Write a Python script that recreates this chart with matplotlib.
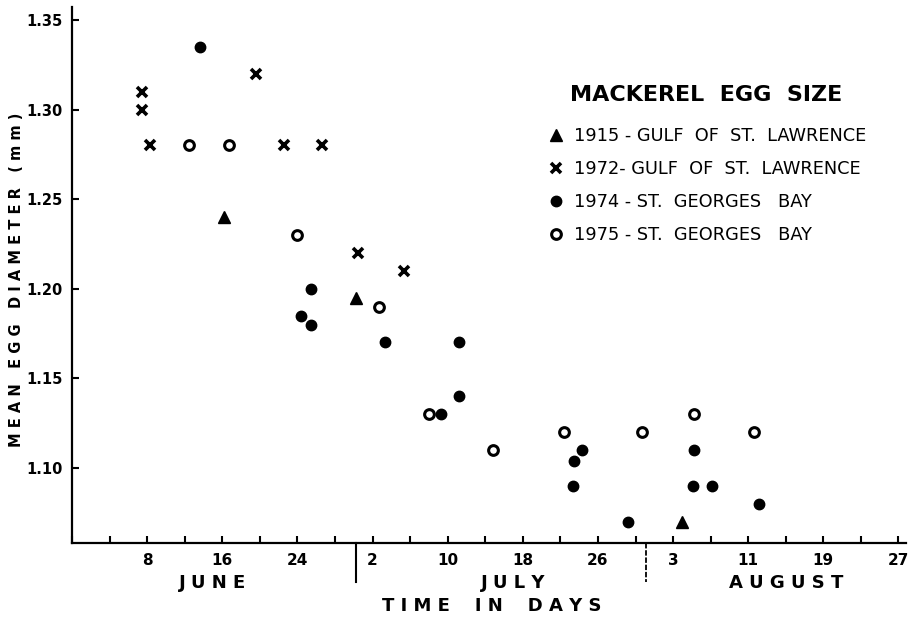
import matplotlib
matplotlib.use("Agg")
import matplotlib.pyplot as plt
from matplotlib.ticker import MultipleLocator, FixedLocator, FixedFormatter
import matplotlib.transforms as mtransforms

# day numbers: June 1 = 1, July 1 = 31, August 1 = 62
day_1915 = [16.2, 30.2, 65.0]
size_1915 = [1.24, 1.195, 1.07]

day_1972 = [7.4, 7.4, 8.3, 19.6, 22.6, 26.6, 30.5, 35.4]
size_1972 = [1.31, 1.30, 1.28, 1.32, 1.28, 1.28, 1.22, 1.21]

day_1974 = [13.6, 25.5, 24.4, 25.4, 33.3, 41.2, 41.2, 39.3, 53.4, 54.3,
            53.3, 59.2, 66.2, 66.1, 68.1, 73.2]
size_1974 = [1.335, 1.20, 1.185, 1.18, 1.17, 1.17, 1.14, 1.13, 1.104, 1.11,
             1.09, 1.07, 1.11, 1.09, 1.09, 1.08]

day_1975 = [12.5, 16.7, 24.0, 32.7, 38.0, 44.8, 52.4, 60.7, 66.2, 72.6]
size_1975 = [1.28, 1.28, 1.23, 1.19, 1.13, 1.11, 1.12, 1.12, 1.13, 1.12]

tick_days = [8, 16, 24, 32, 40, 48, 56, 64, 72, 80, 88]
tick_labels = ["8", "16", "24", "2", "10", "18", "26", "3", "11", "19", "27"]
month_ends = [30.2, 61.1]
months = ["J U N E", "J U L Y", "A U G U S T"]
month_x = [15.0, 47.0, 76.0]
y_ticks = [1.10, 1.15, 1.20, 1.25, 1.30, 1.35]

plt.rcParams['font.family'] = ['DejaVu Sans']

fig = plt.figure(figsize=(9.1, 6.17), dpi=100)
ax = fig.add_axes([72/910, 1 - 543/617, (906 - 72)/910, (543 - 7)/617])

ax.plot(day_1915, size_1915, linestyle='none', marker='^', ms=8, color='black',
        label='1915 - GULF  OF  ST.  LAWRENCE')
ax.plot(day_1972, size_1972, linestyle='none', marker='x', ms=7, mew=2.6, color='black',
        label='1972- GULF  OF  ST.  LAWRENCE')
ax.plot(day_1974, size_1974, linestyle='none', marker='o', ms=7.5, color='black',
        label='1974 - ST.  GEORGES   BAY')
ax.plot(day_1975, size_1975, linestyle='none', marker='o', ms=7, mew=2.2,
        mfc='white', mec='black', label='1975 - ST.  GEORGES   BAY')

ax.set_xlim(0, 88.8)
ax.set_ylim(1.058, 1.3573)

for s in ['top', 'right']:
    ax.spines[s].set_visible(False)
for s in ['left', 'bottom']:
    ax.spines[s].set_linewidth(1.6)

ax.xaxis.set_major_locator(FixedLocator(tick_days))
ax.xaxis.set_major_formatter(FixedFormatter(tick_labels))
ax.xaxis.set_minor_locator(MultipleLocator(4))
ax.set_yticks(y_ticks)
ax.set_yticklabels(["%.2f" % v for v in y_ticks])
ax.tick_params(axis='both', which='both', direction='in', length=5, width=1.5)
ax.tick_params(axis='x', labelsize=11, pad=7)
ax.tick_params(axis='y', labelsize=10.5, pad=7)
for lab in ax.get_xticklabels() + ax.get_yticklabels():
    lab.set_fontweight('bold')

# month separators below the axis
trans = mtransforms.blended_transform_factory(ax.transData, ax.transAxes)
ax.plot([month_ends[0], month_ends[0]], [0, -0.073], color='black', lw=1.5,
        transform=trans, clip_on=False)
ax.plot([month_ends[1], month_ends[1]], [0, -0.073], color='black', lw=1.3,
        linestyle=(0, (3, 1)), transform=trans, clip_on=False)

for name, mx in zip(months, month_x):
    ax.text(mx, -0.075, name, transform=trans, ha='center', va='center',
            fontsize=13, fontweight='bold')
fig.text(492/910, 1 - 606/617, "T I M E    I N    D A Y S", ha='center', va='center',
         fontsize=13, fontweight='bold')
fig.text(17/910, 1 - 280/617, "M E A N   E G G   D I A M E T E R   ( m m )",
         rotation=90, ha='center', va='center', fontsize=10.5, fontweight='bold')

leg = ax.legend(loc='upper left', bbox_to_anchor=(538/910, 1 - 76/617),
                bbox_transform=fig.transFigure, frameon=False, fontsize=12.8,
                handlelength=1.0, handletextpad=0.5, labelspacing=0.85,
                borderpad=0, title='MACKEREL  EGG  SIZE',
                title_fontproperties={'size': 16, 'weight': 'bold'})
leg._legend_box.sep = 16

fig.savefig("out.png", dpi=100)
